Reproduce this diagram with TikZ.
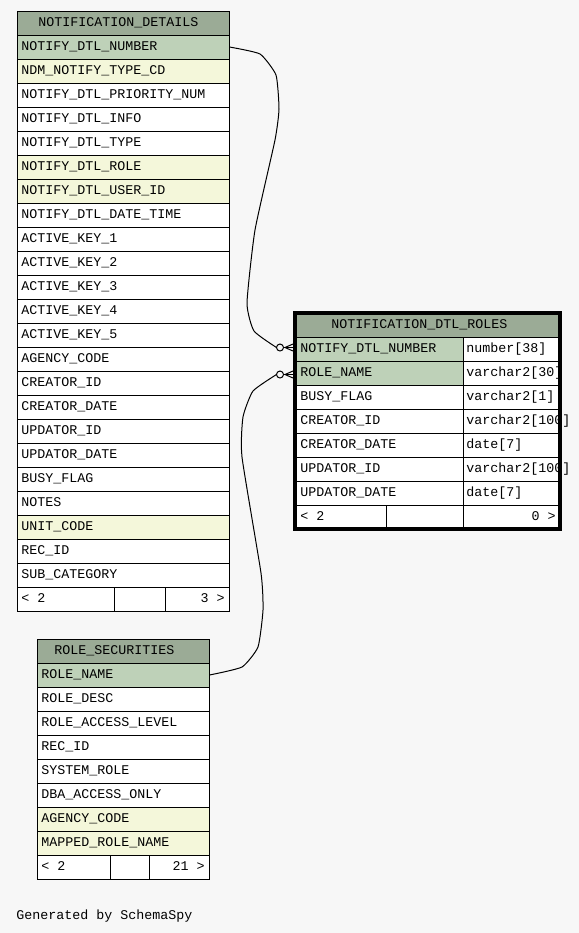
\documentclass[tikz,border=0pt]{standalone}
\usepackage{fontspec}
\setmonofont{Liberation Mono}
\usetikzlibrary{calc}
\definecolor{bgc}{HTML}{F7F7F7}
\definecolor{headc}{HTML}{9BAB96}
\definecolor{pk}{HTML}{BED1B8}
\definecolor{ix}{HTML}{F4F7DA}
\tikzset{
  cellbox/.style={draw=black, line width=0.75pt},
  lbl/.style={anchor=base west, inner sep=0pt, font=\ttfamily\fontsize{10pt}{12pt}\selectfont, text=black},
  rlbl/.style={lbl, anchor=base east},
  conn/.style={draw=black, line width=0.75pt},
}
\begin{document}
\begin{tikzpicture}[x=0.75pt,y=-0.75pt]
\useasboundingbox (0,0) rectangle (579,933);
\fill[bgc] (0,0) rectangle (579,933);

% ---------- NOTIFICATION_DETAILS ----------
\filldraw[fill=headc,cellbox] (17,11) rectangle (229,35);
\node[lbl] (ndh) at (38,26.5) {NOTIFICATION\_DETAILS};
\foreach \t/\c [count=\i from 0] in {
  NOTIFY\_DTL\_NUMBER/pk, NDM\_NOTIFY\_TYPE\_CD/ix, NOTIFY\_DTL\_PRIORITY\_NUM/white,
  NOTIFY\_DTL\_INFO/white, NOTIFY\_DTL\_TYPE/white, NOTIFY\_DTL\_ROLE/ix,
  NOTIFY\_DTL\_USER\_ID/ix, NOTIFY\_DTL\_DATE\_TIME/white, ACTIVE\_KEY\_1/white,
  ACTIVE\_KEY\_2/white, ACTIVE\_KEY\_3/white, ACTIVE\_KEY\_4/white, ACTIVE\_KEY\_5/white,
  AGENCY\_CODE/white, CREATOR\_ID/white, CREATOR\_DATE/white, UPDATOR\_ID/white,
  UPDATOR\_DATE/white, BUSY\_FLAG/white, NOTES/white, UNIT\_CODE/ix, REC\_ID/white,
  SUB\_CATEGORY/white}{
  \pgfmathsetmacro\yt{35+24*\i}
  \filldraw[fill=\c,cellbox] (17,\yt) rectangle (229,\yt+24);
  \node[lbl] (nd\i) at (21,\yt+15.5) {\t};
}
\filldraw[fill=white,cellbox] (17,587) rectangle (114,611);
\filldraw[fill=white,cellbox] (114,587) rectangle (165,611);
\filldraw[fill=white,cellbox] (165,587) rectangle (229,611);
\node[lbl] (ndfl) at (21,602.5) {< 2};
\node[rlbl] (ndfr) at (225,602.5) {3 >};

% ---------- NOTIFICATION_DTL_ROLES ----------
\filldraw[fill=headc,cellbox] (295,313) rectangle (560,337);
\node[lbl] (nrh) at (331,328.5) {NOTIFICATION\_DTL\_ROLES};
\foreach \t/\v/\c [count=\i from 0] in {
  NOTIFY\_DTL\_NUMBER/number[38]/pk, ROLE\_NAME/varchar2[30]/pk,
  BUSY\_FLAG/varchar2[1]/white, CREATOR\_ID/varchar2[100]/white,
  CREATOR\_DATE/date[7]/white, UPDATOR\_ID/varchar2[100]/white,
  UPDATOR\_DATE/date[7]/white}{
  \pgfmathsetmacro\yt{337+24*\i}
  \filldraw[fill=\c,cellbox] (295,\yt) rectangle (463,\yt+24);
  \filldraw[fill=white,cellbox] (463,\yt) rectangle (560,\yt+24);
  \node[lbl] (nr\i) at (300,\yt+15.5) {\t};
  \node[lbl] (nrv\i) at (466,\yt+15.5) {\v};
}
\filldraw[fill=white,cellbox] (295,505) rectangle (386,529);
\filldraw[fill=white,cellbox] (386,505) rectangle (463,529);
\filldraw[fill=white,cellbox] (463,505) rectangle (560,529);
\node[lbl] (nrfl) at (300,520.5) {< 2};
\node[rlbl] (nrfr) at (556,520.5) {0 >};
\draw[line width=2.6pt] (295,313) rectangle (560,529);

% ---------- ROLE_SECURITIES ----------
\filldraw[fill=headc,cellbox] (37,639) rectangle (209,663);
\node[lbl] (rsh) at (54,654.5) {ROLE\_SECURITIES};
\foreach \t/\c [count=\i from 0] in {
  ROLE\_NAME/pk, ROLE\_DESC/white, ROLE\_ACCESS\_LEVEL/white, REC\_ID/white,
  SYSTEM\_ROLE/white, DBA\_ACCESS\_ONLY/white, AGENCY\_CODE/ix, MAPPED\_ROLE\_NAME/ix}{
  \pgfmathsetmacro\yt{663+24*\i}
  \filldraw[fill=\c,cellbox] (37,\yt) rectangle (209,\yt+24);
  \node[lbl] (rs\i) at (41,\yt+15.5) {\t};
}
\filldraw[fill=white,cellbox] (37,855) rectangle (110,879);
\filldraw[fill=white,cellbox] (110,855) rectangle (149,879);
\filldraw[fill=white,cellbox] (149,855) rectangle (209,879);
\node[lbl] (rsfl) at (41,870.5) {< 2};
\node[rlbl] (rsfr) at (205,870.5) {21 >};

% ---------- connectors ----------
\coordinate (ndE) at (229.5,47);
\coordinate (nrA) at (276.5,347.5);
\coordinate (nrAc) at (280,347.5);
\coordinate (nrAw) at (293,347.5);
\coordinate (rsE) at (209.5,675);
\coordinate (nrB) at (276.5,374.5);
\coordinate (nrBc) at (280,374.5);
\coordinate (nrBw) at (293,374.5);

\draw[conn] plot[smooth,tension=0.3] coordinates {(ndE) (260,54) (276,75) (279,109) (275,140) (255,230) (247,303) (254,331) (nrA)};
\draw[conn] plot[smooth,tension=0.3] coordinates {(rsE) (242,667) (258,647) (263,610) (261,573) (242,457) (243,417) (253,391) (nrB)};

\foreach \p in {nrA,nrB}{
  \draw[conn,fill=bgc] (\p c) circle[radius=3.5];
  \draw[conn] ($(\p c)+(3.5,0)$) -- (\p w);
  \draw[conn] ($(\p c)+(5,0)$) -- ($(\p w)+(0,-3.5)$);
  \draw[conn] ($(\p c)+(5,0)$) -- ($(\p w)+(0,3.5)$);
}

\node[lbl] (gen) at (16,919.5) {Generated by SchemaSpy};
\end{tikzpicture}
\end{document}
